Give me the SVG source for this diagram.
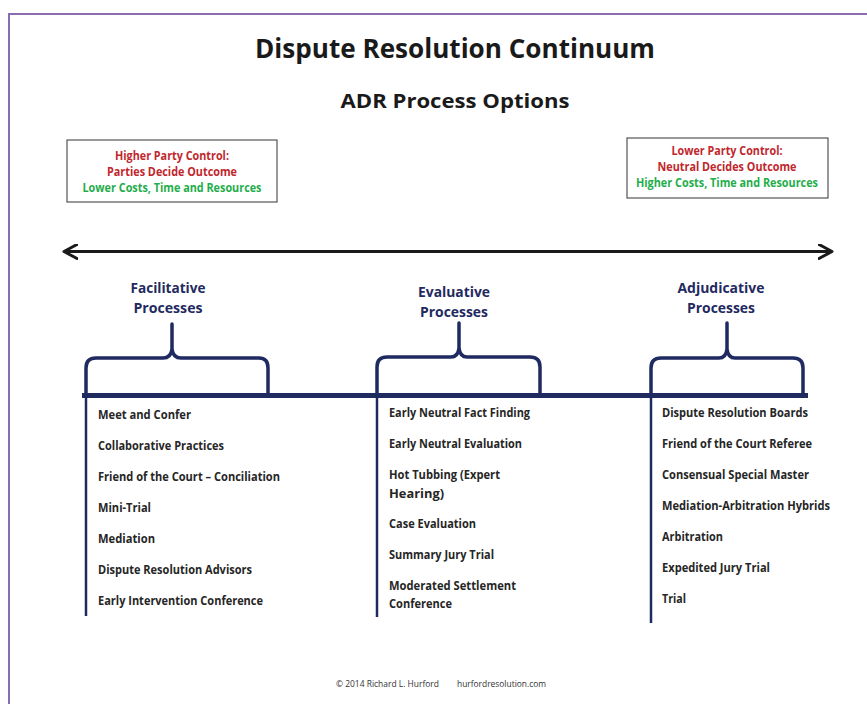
<svg xmlns="http://www.w3.org/2000/svg" width="867" height="704" viewBox="0 0 867 704">
<defs>
<style>
text{font-family:"Open Sans","Liberation Sans",sans-serif;font-weight:700}
.ttl{fill:#1a1a1a}
.cat{fill:#1f2a60;font-size:14.5px;text-anchor:middle}
.item{fill:#262626;font-size:11.5px}
.red{fill:#c1272d;font-size:11.5px;text-anchor:middle}
.grn{fill:#1fae4b;font-size:11.5px;text-anchor:middle}
.brace{fill:none;stroke:#1f2a60;stroke-width:3.5;stroke-linecap:round;stroke-linejoin:round}
.vline{stroke:#1f2a60;stroke-width:2.5}
.box{fill:#fff;stroke:#333;stroke-width:1}
.foot{fill:#333;font-size:8.5px;font-weight:400}
</style>
<marker id="chev" viewBox="0 0 16 16" refX="14" refY="8" markerWidth="16" markerHeight="16" markerUnits="userSpaceOnUse" orient="auto-start-reverse">
<path d="M1,1 L14,8 L1,15" fill="none" stroke="#1a1a1a" stroke-width="3" stroke-linecap="round" stroke-linejoin="round"/>
</marker>
</defs>
<rect width="867" height="704" fill="#fff"/>
<path d="M9,704 V14 H867" fill="none" stroke="#8c6bb1" stroke-width="2"/>

<g id="title">
<text class="ttl" x="455" y="58" font-size="26" text-anchor="middle" textLength="400" lengthAdjust="spacingAndGlyphs">Dispute Resolution Continuum</text>
<text class="ttl" x="455" y="108" font-size="20" text-anchor="middle" textLength="229" lengthAdjust="spacingAndGlyphs">ADR Process Options</text>
</g>

<g id="box-left">
<rect class="box" x="67" y="140" width="210" height="62"/>
<text class="red" x="172" y="160" textLength="114" lengthAdjust="spacingAndGlyphs">Higher Party Control:</text>
<text class="red" x="172" y="176" textLength="130" lengthAdjust="spacingAndGlyphs">Parties Decide Outcome</text>
<text class="grn" x="172" y="192" textLength="179" lengthAdjust="spacingAndGlyphs">Lower Costs, Time and Resources</text>
</g>

<g id="box-right">
<rect class="box" x="627" y="138" width="201" height="60"/>
<text class="red" x="727" y="155" textLength="111" lengthAdjust="spacingAndGlyphs">Lower Party Control:</text>
<text class="red" x="727" y="171" textLength="139" lengthAdjust="spacingAndGlyphs">Neutral Decides Outcome</text>
<text class="grn" x="727" y="187" textLength="182" lengthAdjust="spacingAndGlyphs">Higher Costs, Time and Resources</text>
</g>

<g id="connectors">
<line x1="64" y1="251.5" x2="832" y2="251.5" stroke="#1a1a1a" stroke-width="3" marker-start="url(#chev)" marker-end="url(#chev)"/>
<line x1="82" y1="395.5" x2="808" y2="395.5" stroke="#1f2a60" stroke-width="5"/>
<line class="vline" x1="86" y1="395" x2="86" y2="616"/>
<line class="vline" x1="377" y1="395" x2="377" y2="617"/>
<line class="vline" x1="651" y1="395" x2="651" y2="623"/>
<path class="brace" d="M86,395 V368 Q86,358 96,358 H163 Q171,358 172,349 V324 M172,349 Q173,358 181,358 H259 Q268,358 268,368 V394"/>
<path class="brace" d="M377,395 V367 Q377,357 387,357 H451 Q458,357 459,348 V323 M459,348 Q460,357 467,357 H530 Q540,357 540,367 V394"/>
<path class="brace" d="M651,395 V368 Q651,358 661,358 H719 Q726,358 727,349 V323 M727,349 Q728,358 735,358 H793 Q803,358 803,368 V394"/>
</g>

<g id="facilitative">
<text class="cat" x="168" y="293" textLength="75" lengthAdjust="spacingAndGlyphs">Facilitative</text>
<text class="cat" x="168" y="313" textLength="69" lengthAdjust="spacingAndGlyphs">Processes</text>
<text class="item" x="98" y="419" textLength="93" lengthAdjust="spacingAndGlyphs">Meet and Confer</text>
<text class="item" x="98" y="450" textLength="126" lengthAdjust="spacingAndGlyphs">Collaborative Practices</text>
<text class="item" x="98" y="481" textLength="182" lengthAdjust="spacingAndGlyphs">Friend of the Court – Conciliation</text>
<text class="item" x="98" y="512" textLength="53" lengthAdjust="spacingAndGlyphs">Mini-Trial</text>
<text class="item" x="98" y="543" textLength="57" lengthAdjust="spacingAndGlyphs">Mediation</text>
<text class="item" x="98" y="574" textLength="154" lengthAdjust="spacingAndGlyphs">Dispute Resolution Advisors</text>
<text class="item" x="98" y="605" textLength="165" lengthAdjust="spacingAndGlyphs">Early Intervention Conference</text>
</g>

<g id="evaluative">
<text class="cat" x="454" y="297" textLength="72" lengthAdjust="spacingAndGlyphs">Evaluative</text>
<text class="cat" x="454" y="317" textLength="68" lengthAdjust="spacingAndGlyphs">Processes</text>
<text class="item" x="389" y="417" textLength="141" lengthAdjust="spacingAndGlyphs">Early Neutral Fact Finding</text>
<text class="item" x="389" y="448" textLength="133" lengthAdjust="spacingAndGlyphs">Early Neutral Evaluation</text>
<text class="item" x="389" y="479" textLength="111" lengthAdjust="spacingAndGlyphs">Hot Tubbing (Expert</text>
<text class="item" x="389" y="498" textLength="55" lengthAdjust="spacingAndGlyphs">Hearing)</text>
<text class="item" x="389" y="528" textLength="87" lengthAdjust="spacingAndGlyphs">Case Evaluation</text>
<text class="item" x="389" y="559" textLength="105" lengthAdjust="spacingAndGlyphs">Summary Jury Trial</text>
<text class="item" x="389" y="590" textLength="127" lengthAdjust="spacingAndGlyphs">Moderated Settlement</text>
<text class="item" x="389" y="608" textLength="63" lengthAdjust="spacingAndGlyphs">Conference</text>
</g>

<g id="adjudicative">
<text class="cat" x="721" y="293" textLength="87" lengthAdjust="spacingAndGlyphs">Adjudicative</text>
<text class="cat" x="721" y="313" textLength="68" lengthAdjust="spacingAndGlyphs">Processes</text>
<text class="item" x="662" y="417" textLength="146" lengthAdjust="spacingAndGlyphs">Dispute Resolution Boards</text>
<text class="item" x="662" y="448" textLength="150" lengthAdjust="spacingAndGlyphs">Friend of the Court Referee</text>
<text class="item" x="662" y="479" textLength="147" lengthAdjust="spacingAndGlyphs">Consensual Special Master</text>
<text class="item" x="662" y="510" textLength="168" lengthAdjust="spacingAndGlyphs">Mediation-Arbitration Hybrids</text>
<text class="item" x="662" y="541" textLength="61" lengthAdjust="spacingAndGlyphs">Arbitration</text>
<text class="item" x="662" y="572" textLength="108" lengthAdjust="spacingAndGlyphs">Expedited Jury Trial</text>
<text class="item" x="662" y="603" textLength="24" lengthAdjust="spacingAndGlyphs">Trial</text>
</g>

<g id="footer">
<text class="foot" x="336" y="687" textLength="103" lengthAdjust="spacingAndGlyphs">© 2014 Richard L. Hurford</text>
<text class="foot" x="457" y="687" textLength="89" lengthAdjust="spacingAndGlyphs">hurfordresolution.com</text>
</g>
</svg>
